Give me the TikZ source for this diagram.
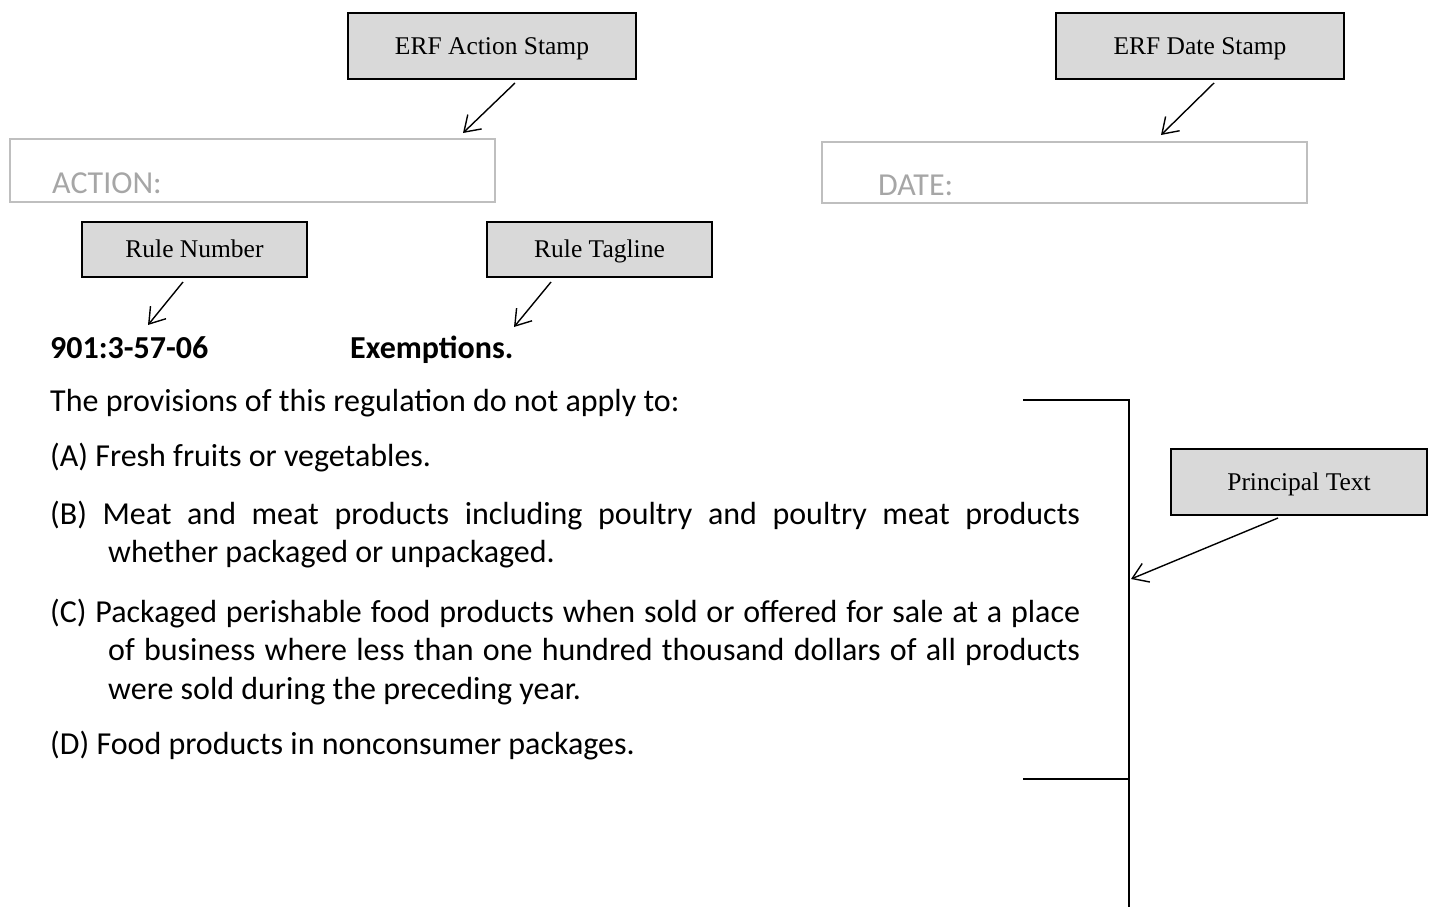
\documentclass[tikz,border=0pt]{standalone}
\usepackage{fontspec}
\setmainfont{Carlito}
\newfontfamily\boxfont{Liberation Serif}
\usetikzlibrary{arrows.meta}
\definecolor{boxgray}{HTML}{D9D9D9}
\definecolor{stampline}{HTML}{BFBFBF}
\definecolor{stamptext}{HTML}{A6A6A6}
\begin{document}
\begin{tikzpicture}[x=1pt,y=-1pt,
  labelbox/.style={draw=black, line width=1.2pt, fill=boxgray, inner sep=0pt,
    text height=16.5pt, text depth=0pt,
    font=\boxfont\fontsize{25.5}{28}\selectfont},
  stampbox/.style={draw=stampline, line width=1.2pt, inner sep=0pt},
  stamptxt/.style={text=stamptext, inner sep=0pt, anchor=base west,
    font=\fontsize{32}{38}\selectfont},
  pointer/.style={line width=1.4pt, -{Straight Barb[length=15pt,width=20pt,line width=1.4pt]}},
  body/.style={inner sep=0pt, anchor=base west, font=\fontsize{32}{38.5}\selectfont},
  item/.style={body, text width=1030pt, align=justify},
  bracket/.style={line width=2pt}
]
\useasboundingbox (0,0) rectangle (1434,907);

% label boxes
\node[labelbox, minimum width=288pt, minimum height=66pt] (erfA) at (492,46) {ERF Action Stamp};
\node[labelbox, minimum width=288pt, minimum height=66pt] (erfD) at (1200,46) {ERF Date Stamp};
\node[labelbox, minimum width=225pt, minimum height=55pt] (rnum) at (194.5,249.5) {Rule Number};
\node[labelbox, minimum width=225pt, minimum height=55pt] (rtag) at (599.5,249.5) {Rule Tagline};
\node[labelbox, minimum width=256pt, minimum height=66pt] (ptext) at (1299,482) {Principal Text};

% stamp boxes
\node[stampbox, minimum width=485pt, minimum height=63pt] (actbox) at (252.5,170.5) {};
\node[stampbox, minimum width=485pt, minimum height=61pt] (datebox) at (1064.5,172.5) {};
\node[stamptxt] (acttxt) at (52,193) {ACTION:};
\node[stamptxt] (datetxt) at (878,195) {DATE:};

% rule heading
\node[body, font=\fontsize{32}{38.5}\selectfont\bfseries] (rnumtxt) at (50,358) {901:3-57-06};
\node[body, font=\fontsize{32}{38.5}\selectfont\bfseries] (rtagtxt) at (350,358) {Exemptions.};

% principal text
\node[body] (intro) at (50,411) {The provisions of this regulation do not apply to:};
\node[item] (pa) at (50,466) {\hangindent=58pt\hangafter=1 (A) Fresh fruits or vegetables.\par};
\node[item] (pb) at (50,524) {\hangindent=58pt\hangafter=1 (B) Meat and meat products including poultry and poultry meat products\linebreak whether packaged or unpackaged.\par};
\node[item] (pc) at (50,622) {\hangindent=58pt\hangafter=1 (C) Packaged perishable food products when sold or offered for sale at a place\linebreak of business where less than one hundred thousand dollars of all products\linebreak were sold during the preceding year.\par};
\node[item] (pd) at (50,754) {\hangindent=58pt\hangafter=1 (D) Food products in nonconsumer packages.\par};

% bracket
\coordinate (bt1) at (1023,400);
\coordinate (bt2) at (1129,400);
\coordinate (bb1) at (1023,779);
\coordinate (bb2) at (1129,779);
\coordinate (bend) at (1129,907);
\draw[bracket] (bt1) -- (bt2) -- (bend);
\draw[bracket] (bb1) -- (bb2);

% pointer coordinates
\coordinate (a1) at (515,83);  \coordinate (a2) at (463,133);
\coordinate (d1) at (1214,83); \coordinate (d2) at (1161,135);
\coordinate (n1) at (183,282); \coordinate (n2) at (148,325);
\coordinate (t1) at (551,282); \coordinate (t2) at (514,327);
\coordinate (p1) at (1278,518); \coordinate (p2) at (1131,579);
\draw[pointer] (a1) -- (a2);
\draw[pointer] (d1) -- (d2);
\draw[pointer] (n1) -- (n2);
\draw[pointer] (t1) -- (t2);
\draw[pointer] (p1) -- (p2);
\end{tikzpicture}
\end{document}
